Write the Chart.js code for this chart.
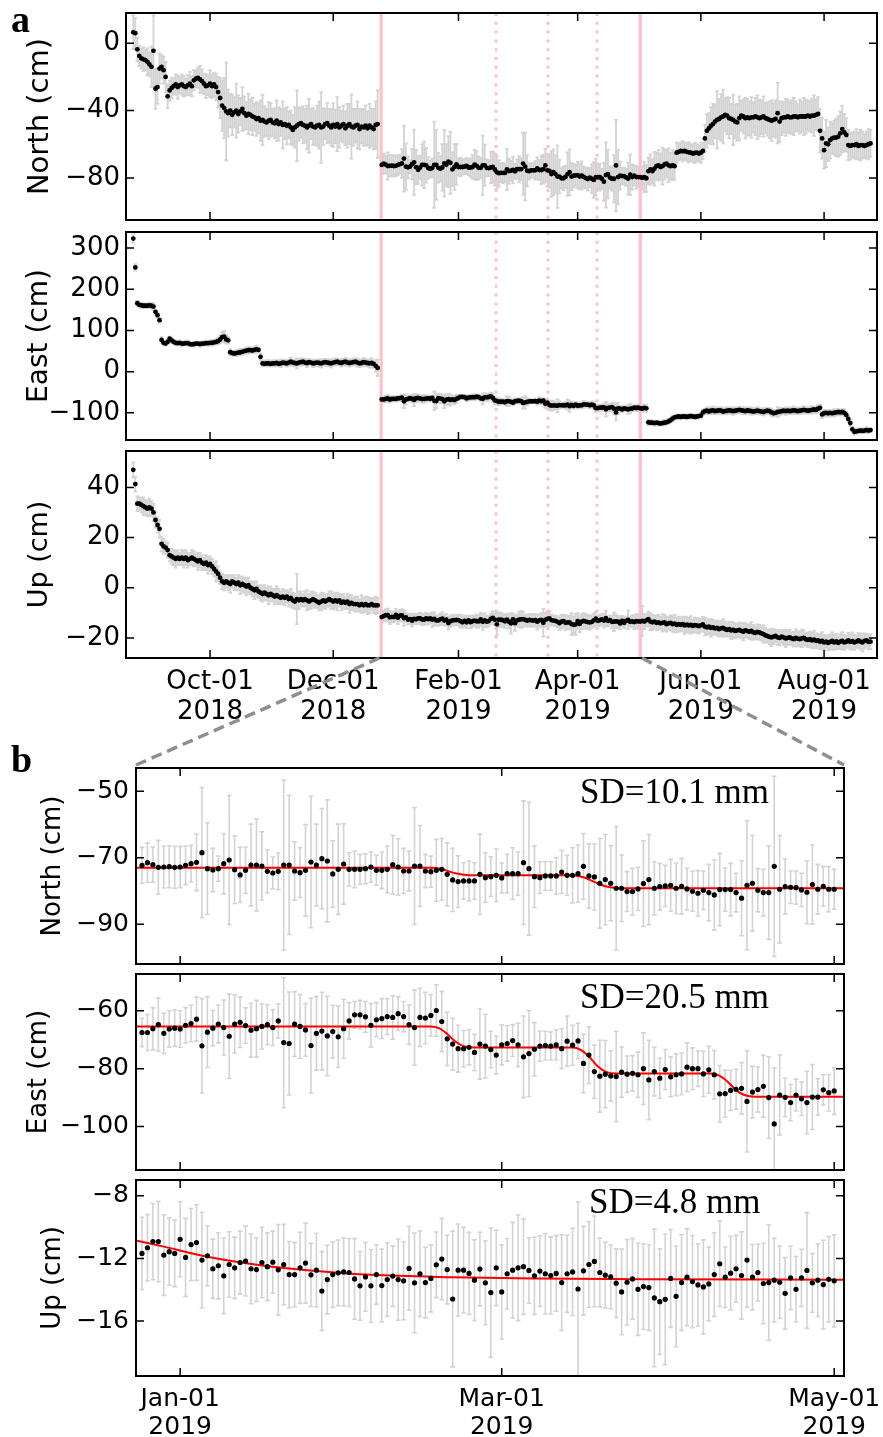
<!DOCTYPE html>
<html>
<head>
<meta charset="utf-8">
<script src="https://cdn.jsdelivr.net/npm/chart.js@4/dist/chart.umd.min.js"></script>
<style>
  body { margin: 0; background: #fff; }
  #wrap { position: relative; width: 883px; height: 1437px; overflow: hidden; background: #fff; }
  #wrap canvas { position: absolute; left: 0; }
  #overlay { top: 0; pointer-events: none; z-index: 5; }
</style>
</head>
<body>
<div id="wrap">
  <canvas id="aNorth"></canvas>
  <canvas id="aEast"></canvas>
  <canvas id="aUp"></canvas>
  <canvas id="bNorth"></canvas>
  <canvas id="bEast"></canvas>
  <canvas id="bUp"></canvas>
  <canvas id="overlay" width="883" height="1437"></canvas>
</div>
<script>
// day numbers are counted from 2018-01-01 (day 0)
const aPreStart = 235;   // 2018-08-24
const bStart = 358;      // 2018-12-25
const aPostStart = 486;  // 2019-05-02

const aTickDays = [273, 334, 396, 455, 516, 577];
const aTickLabels = [['Oct-01', '2018'], ['Dec-01', '2018'], ['Feb-01', '2019'], ['Apr-01', '2019'], ['Jun-01', '2019'], ['Aug-01', '2019']];
const bTickDays = [365, 424, 485];
const bTickLabels = [['Jan-01', '2019'], ['Mar-01', '2019'], ['May-01', '2019']];

const aNorthTicks = [0, -40, -80];
const aEastTicks = [300, 200, 100, 0, -100];
const aUpTicks = [40, 20, 0, -20];
const bNorthTicks = [-50, -70, -90];
const bEastTicks = [-60, -80, -100];
const bUpTicks = [-8, -12, -16];

// event dates (pink lines)
const quakeDays = [357.7, 486];
const sseDays = [414.6, 440.3, 464.6];

// ---- panel b: daily positions (cm) and 1-sigma errors ----
const bNorth = [
  -72.3,-71.5,-72.1,-72.9,-72.8,-72.7,-72.9,-72.8,-72.3,-71.8,
  -71.4,-68.5,-73.3,-73.7,-73.3,-71.8,-70.7,-73.6,-75.2,-73.8,
  -72.2,-72.2,-72.5,-74.1,-74.6,-74.1,-72.2,-72.2,-74.0,-74.5,
  -73.8,-71.3,-72.2,-70.3,-71.0,-74.9,-73.5,-71.9,-73.5,-73.5,
  -73.5,-73.3,-72.8,-73.8,-73.8,-73.5,-72.1,-72.8,-74.0,-74.0,
  -72.5,-72.5,-74.0,-74.2,-73.8,-73.5,
  -75.0,-76.7,-77.2,-77.0,-77.0,-77.0,-75.0,-76.0,-75.7,-75.3,
  -76.1,-74.8,-74.8,-74.8,-71.5,-73.3,-75.7,-76.0,-75.5,-75.5,
  -75.5,-74.3,-75.3,-75.3,-74.8,-72.6,-75.5,-75.8,-77.7,-76.6,
  -77.7,-79.2,-79.2,-80.2,-80.2,-79.4,-77.8,-76.6,-79.2,-78.7,
  -78.5,-78.3,-79.2,-78.6,-79.4,-80.1,-80.7,-79.8,-80.5,-81.2,
  -79.6,-79.6,-79.6,-80.5,-82.2,-78.3,-77.7,-79.8,-80.5,-80.5,
  -72.6,-79.5,-78.7,-78.9,-79.0,-79.7,-80.4,-78.1,-79.5,-78.6,
  -79.5,-79.5
];
const bNorthErr = [
  5.4,5.9,5.3,8.1,6.3,6.3,6.3,6.2,5.8,5.5,
  8.5,19.6,13.8,6.5,3.8,9.1,19.4,10.2,8.3,7.0,
  12.3,13.8,10.3,6.5,4.8,5.5,25.6,20.9,8.8,7.5,
  13.8,19.8,12.3,15.1,18.4,10.0,13.6,12.1,5.0,5.5,
  4.5,4.5,4.6,4.5,5.5,7.0,8.8,8.5,6.8,6.0,
  17.6,12.2,5.0,4.7,9.3,9.3,
  9.5,9.5,7.8,5.5,6.0,5.5,12.1,7.5,6.0,7.9,
  4.5,5.8,7.8,6.5,18.6,20.0,9.3,4.8,4.3,4.3,
  5.5,6.5,6.0,8.3,8.6,9.9,9.7,10.0,13.5,13.6,
  11.3,18.6,10.0,6.0,7.0,6.5,12.9,13.6,8.0,7.0,
  6.2,7.8,7.6,8.4,6.3,6.0,6.8,5.8,8.5,10.6,
  10.9,6.5,7.9,5.8,11.3,19.4,14.4,6.5,7.0,14.1,
  27.1,16.2,8.3,4.9,5.0,5.0,9.5,11.9,7.5,6.0,
  6.8,6.0
];
const bEast = [
  -67.5,-67.5,-66.2,-64.8,-67.8,-66.3,-66.0,-66.3,-65.0,-64.4,
  -62.9,-72.1,-67.4,-66.0,-64.6,-65.8,-68.8,-64.6,-64.0,-65.1,
  -66.7,-66.2,-65.4,-64.8,-65.8,-63.5,-71.0,-71.3,-64.6,-65.4,
  -66.6,-72.0,-67.8,-67.0,-68.7,-67.2,-69.0,-66.2,-63.5,-61.4,
  -61.4,-62.1,-65.0,-63.1,-62.7,-62.0,-62.3,-61.0,-62.0,-64.8,
  -65.8,-62.3,-62.5,-61.6,-59.9,-63.7,
  -69.7,-71.5,-73.1,-73.1,-72.6,-74.4,-71.5,-72.2,-73.4,-75.3,
  -71.8,-71.3,-70.3,-71.8,-75.9,-74.8,-73.3,-72.2,-72.0,-72.2,
  -71.8,-73.1,-70.5,-71.9,-70.4,-78.2,-75.3,-81.0,-82.6,-81.9,
  -82.5,-82.7,-81.2,-81.9,-81.6,-82.1,-80.0,-83.9,-81.0,-83.3,
  -80.3,-82.8,-82.1,-81.8,-79.5,-80.0,-80.0,-81.8,-80.4,-82.1,
  -88.7,-88.6,-87.5,-87.1,-86.8,-91.3,-88.1,-87.2,-86.1,-90.0,
  -99.1,-89.1,-89.9,-91.7,-89.1,-90.4,-91.7,-89.8,-89.8,-87.3,
  -88.3,-87.7
];
const bEastErr = [
  4.9,6.2,7.3,9.2,6.9,6.3,6.3,6.3,6.1,6.3,
  7.6,16.3,12.2,6.1,6.5,9.5,14.6,10.0,8.7,6.1,
  9.3,9.8,7.8,6.9,6.2,5.9,22.5,17.8,11.2,11.0,
  9.1,16.4,12.7,13.4,13.7,9.1,10.6,10.2,6.3,4.6,
  5.0,5.3,7.5,5.9,6.9,6.2,7.5,5.8,5.2,6.8,
  13.0,10.1,8.9,7.2,8.9,10.4,
  9.2,8.9,8.1,6.3,6.1,6.3,12.1,11.0,6.3,6.6,
  6.9,6.1,5.5,7.5,14.1,14.8,9.2,5.2,4.9,4.9,
  5.2,6.9,8.7,6.9,6.1,10.1,9.8,9.2,12.4,11.6,
  8.7,15.6,8.7,6.3,6.1,7.8,12.4,13.7,8.4,6.9,
  6.9,6.9,7.2,7.2,8.4,7.2,6.1,7.8,8.1,8.4,
  9.8,8.1,6.9,6.9,8.9,17.5,8.9,7.8,10.7,14.1,
  19.4,13.8,6.6,6.3,5.5,5.8,10.8,11.2,6.3,5.2,
  6.3,8.1
];
const bUp = [
  -11.68,-11.32,-10.93,-10.93,-11.79,-11.57,-11.68,-10.78,-11.94,-11.12,
  -10.99,-12.11,-11.83,-12.66,-12.47,-13.11,-12.39,-12.60,-12.26,-12.17,
  -12.66,-12.71,-12.26,-12.53,-12.24,-12.73,-12.39,-13.03,-13.03,-12.60,
  -12.30,-13.05,-12.75,-14.08,-13.35,-13.03,-12.92,-12.86,-12.90,-13.31,
  -13.75,-13.18,-13.75,-13.03,-13.73,-13.35,-13.13,-13.35,-13.43,-12.64,
  -13.56,-12.98,-13.54,-13.28,-12.41,-12.04,
  -12.71,-14.59,-12.75,-12.75,-12.96,-13.39,-12.68,-13.56,-14.18,-12.60,
  -14.14,-12.98,-12.75,-12.60,-12.53,-12.77,-13.11,-12.81,-12.98,-13.09,
  -12.96,-13.54,-12.98,-12.86,-13.95,-12.79,-12.39,-12.19,-12.90,-13.07,
  -13.18,-13.58,-14.14,-13.52,-13.31,-13.97,-13.80,-13.86,-14.52,-14.76,
  -14.61,-13.28,-14.42,-13.54,-13.20,-13.48,-13.69,-13.82,-13.63,-13.03,
  -12.34,-13.20,-12.94,-12.66,-13.09,-12.11,-13.20,-12.90,-13.60,-13.54,
  -13.39,-13.52,-14.23,-13.24,-13.97,-13.24,-12.77,-13.56,-13.39,-13.67,
  -13.33,-13.43
];
const bUpErr = [
  2.30,2.11,2.43,2.56,2.57,2.14,2.12,2.39,2.49,2.30,
  2.41,3.05,1.91,1.89,2.11,2.41,2.09,1.96,2.00,2.23,
  2.23,2.03,2.25,2.16,1.98,2.89,2.57,2.11,2.05,2.27,
  2.55,2.01,2.35,2.51,2.19,2.09,2.09,2.17,2.17,2.57,
  2.19,2.19,2.32,1.90,2.32,2.35,1.93,2.59,2.48,2.67,
  3.18,2.73,2.25,2.14,2.09,2.59,
  2.19,4.33,2.94,2.73,2.62,2.57,2.35,2.67,4.12,2.41,
  3.00,2.25,3.05,3.37,3.05,2.09,2.46,2.25,2.57,2.46,
  2.41,3.05,2.46,2.78,5.56,2.83,2.73,2.89,2.19,2.09,
  2.03,2.19,2.73,2.73,2.57,2.94,2.73,2.73,4.39,3.37,
  4.17,3.12,3.21,3.05,3.10,2.94,2.62,3.00,2.35,2.67,
  2.73,1.93,2.35,2.14,2.78,3.00,2.09,1.82,2.57,3.69,
  2.67,2.30,2.28,2.03,2.09,1.82,3.69,1.87,2.32,2.83,
  2.73,2.94
];

// model fits in panel b (knots)
const bFitNorthX = [356.9, 411, 413, 415, 417, 419, 437, 439, 441, 443, 445, 448, 486.8];
const bFitNorthY = [-73.0, -73.0, -73.4, -74.5, -75.1, -75.3, -75.3, -75.9, -77.3, -78.6, -79.1, -79.2, -79.2];
const bFitEastX = [356.9, 411, 412.5, 414, 415.5, 417, 419, 437, 438.5, 440, 441.5, 443, 445, 462.5, 464, 465.5, 467, 468.5, 470.5, 486.8];
const bFitEastY = [-65.4, -65.4, -66.0, -68.0, -70.6, -72.2, -72.7, -72.7, -73.5, -75.8, -79.0, -81.0, -81.7, -81.7, -82.5, -84.6, -87.4, -89.1, -89.7, -89.7];
const bFitUpX = [356.9, 362, 370, 380, 390, 400, 415, 430, 450, 486.8];
const bFitUpY = [-10.85, -11.25, -11.9, -12.45, -12.8, -13.05, -13.2, -13.28, -13.33, -13.36];

// ---- panel a: before the first event and after the last one ----
const aNorthPre = [
  6.5, 6.0, -3.6, -7.5, -9.0, -9.5, -10.0, -11.0, -12.5, -14.0,
  -4.5, -27.0, -26.0, -15.0, -14.0, -16.0, -20.0, -31.5, -28.0, -26.5,
  -25.5, -24.5, -26.0, -25.0, -24.5, -25.5, -26.0, -25.0, -24.0, -25.5,
  -22.0, -21.0, -20.5, -21.5, -22.5, -24.0, -25.5, -25.0, -24.0, -25.5,
  -24.5, -26.0, -29.0, -32.5, -37.0, -38.5, -40.5, -41.5, -40.0, -42.5,
  -41.0, -40.0, -42.0, -40.5, -39.0, -41.5, -43.0, -42.0, -42.5, -43.5,
  -44.0, -45.0, -44.5, -46.0, -45.5, -46.5, -47.0, -46.0, -45.5, -47.0,
  -47.5, -46.0, -48.0, -47.0, -48.5, -48.0, -49.0, -48.5, -50.0, -51.5,
  -50.0, -49.0, -48.0, -47.5, -48.5, -49.0, -50.0, -49.0, -48.0, -49.5,
  -50.0, -49.0, -48.5, -50.0, -49.5, -48.0, -47.5, -49.0, -50.0, -48.5,
  -49.5, -48.0, -50.0, -49.0, -48.0, -50.5, -49.0, -48.0, -49.5, -50.0,
  -49.0, -48.5, -51.0, -49.5, -50.0, -49.0, -50.5, -49.0, -50.0, -51.0,
  -48.5, -48.0
];
const aNorthPreErr = [
  10, 9, 7, 6, 6, 7, 6, 8, 7, 12,
  21, 12, 10, 9, 7, 8, 9, 7, 6, 6,
  5, 6, 7, 5, 6, 6, 5, 6, 7, 6,
  6, 5, 6, 8, 7, 6, 7, 6, 8, 7,
  7, 8, 9, 12, 15, 18, 29, 14, 10, 12,
  9, 16, 11, 8, 13, 10, 8, 12, 9, 11,
  8, 10, 9, 12, 15, 9, 8, 11, 10, 8,
  9, 12, 10, 8, 14, 9, 11, 8, 10, 9,
  12, 21, 10, 9, 11, 10, 13, 16, 9, 11,
  10, 12, 14, 21, 11, 9, 12, 10, 11, 13,
  10, 16, 12, 9, 11, 10, 13, 12, 19, 11,
  10, 14, 12, 10, 11, 12, 10, 13, 11, 12,
  14, 20
];
const aNorthPost = [
  -79.5, -80.0, -79.5, -80.2,
  -76.0, -75.0, -76.0, -74.5, -73.0, -72.5, -73.5, -73.0, -72.0, -71.5,
  -72.5, -73.0, -72.5, -73.0, -65.0, -64.5, -64.0, -64.2, -64.0, -64.5,
  -64.8, -65.0, -65.5, -65.2, -65.0, -65.5, -65.0, -64.0, -56.5, -52.0,
  -50.5, -49.0, -48.0, -46.5, -45.5, -45.0, -44.0, -43.5, -42.5, -43.0,
  -44.5, -45.0, -45.5, -46.5, -47.0, -44.5, -43.0, -43.5, -44.5, -44.0,
  -44.5, -44.0, -44.0, -43.5, -44.0, -44.5, -44.0, -43.5, -44.5, -45.0,
  -45.5, -46.0, -45.5, -45.0, -41.5, -46.5, -44.5, -44.0, -44.0, -43.5,
  -44.0, -44.0, -43.5, -43.5, -44.0, -43.5, -43.5, -43.5, -43.5, -43.0,
  -43.5, -43.0, -43.0, -42.5, -42.0, -52.0, -56.5, -63.5, -59.5, -60.0,
  -57.5, -56.5, -56.0, -56.0, -55.5, -53.5, -51.0, -53.0, -54.5, -60.5,
  -61.0, -60.5, -60.5, -60.0, -61.0, -60.5, -60.5, -61.0, -60.5, -60.0,
  -59.5
];
const aNorthPostErr = [
  8, 7, 9, 8,
  8, 9, 7, 10, 8, 9, 8, 11, 9, 8,
  10, 8, 9, 8, 6, 5, 5, 6, 5, 5,
  6, 5, 5, 6, 5, 5, 6, 5, 8, 10,
  9, 11, 12, 10, 17, 12, 14, 16, 10, 11,
  12, 9, 15, 10, 11, 13, 9, 10, 12, 11,
  10, 12, 9, 11, 13, 11, 10, 12, 9, 10,
  11, 12, 10, 11, 18, 12, 10, 9, 11, 10,
  9, 10, 11, 9, 8, 10, 9, 11, 10, 9,
  9, 10, 12, 9, 10, 13, 12, 11, 14, 10,
  11, 9, 10, 11, 12, 13, 14, 11, 10, 9,
  8, 7, 8, 9, 8, 9, 8, 7, 8, 9,
  8
];
const aEastPre = [
  323, 253, 166, 162, 161, 160, 160, 160, 161, 160,
  158, 145, 137, 125, 77, 70, 68, 72, 80, 76,
  72, 70, 69, 70, 68, 68, 69, 69, 67, 66,
  67, 68, 68, 67, 68, 68, 69, 69, 70, 70,
  71, 72, 74, 78, 84, 85, 78, 76, 47, 45,
  44, 45, 46, 47, 48, 50, 51, 52, 52, 51,
  53, 54, 53, 36, 20, 19, 20, 20, 19, 20,
  20, 21, 19, 20, 22, 21, 20, 22, 24, 22,
  21, 20, 22, 23, 24, 22, 21, 23, 22, 20,
  21, 22, 21, 20, 22, 23, 22, 21, 20, 22,
  23, 24, 22, 21, 23, 24, 22, 21, 22, 23,
  24, 22, 20, 21, 23, 22, 21, 20, 21, 19,
  14, 9
];
const aEastPreErr = [
  10, 8, 6, 5, 6, 5, 6, 5, 6, 7,
  8, 6, 7, 6, 7, 6, 5, 6, 5, 6,
  5, 6, 5, 5, 6, 5, 5, 6, 5, 5,
  6, 5, 5, 6, 5, 5, 6, 6, 5, 7,
  6, 7, 8, 10, 12, 14, 10, 8, 7, 6,
  6, 7, 6, 8, 7, 6, 7, 8, 7, 6,
  7, 9, 6, 8, 7, 6, 7, 8, 6, 7,
  8, 7, 6, 9, 7, 6, 8, 7, 10, 7,
  8, 12, 7, 9, 8, 7, 10, 8, 7, 9,
  8, 7, 9, 10, 8, 7, 9, 8, 10, 7,
  9, 8, 7, 9, 8, 10, 8, 9, 7, 9,
  8, 10, 9, 8, 10, 9, 8, 10, 12, 9,
  14, 20
];
const aEastPost = [
  -89, -90, -88, -89,
  -123, -124, -124, -125, -124, -125, -126, -125, -124, -123,
  -121, -118, -114, -111, -110, -109, -110, -109, -109, -110,
  -109, -108, -109, -110, -109, -108, -107, -99, -96, -95,
  -97, -95, -94, -96, -95, -94, -95, -97, -96, -95,
  -94, -95, -96, -95, -94, -93, -94, -95, -96, -94,
  -95, -96, -97, -96, -95, -96, -97, -98, -96, -95,
  -96, -99, -101, -100, -98, -97, -96, -95, -96, -95,
  -96, -95, -94, -95, -96, -95, -94, -93, -94, -95,
  -94, -93, -92, -93, -90, -88, -104, -101, -100, -101,
  -100, -101, -100, -99, -98, -99, -98, -100, -105, -115,
  -125, -140, -146, -145, -144, -143, -144, -143, -142, -143,
  -142
];
const aEastPostErr = [
  8, 7, 8, 9,
  7, 6, 5, 6, 5, 6, 5, 6, 7, 5,
  6, 5, 6, 5, 6, 5, 6, 5, 5, 6,
  5, 6, 5, 5, 6, 5, 6, 7, 6, 8,
  7, 8, 9, 7, 8, 8, 9, 7, 8, 9,
  7, 8, 9, 8, 7, 8, 7, 9, 8, 7,
  8, 9, 7, 8, 9, 7, 8, 9, 8, 7,
  8, 9, 8, 7, 12, 9, 8, 7, 9, 8,
  7, 8, 9, 8, 7, 8, 7, 9, 8, 7,
  8, 9, 7, 8, 9, 8, 9, 8, 7, 8,
  7, 8, 9, 8, 7, 8, 7, 8, 7, 8,
  7, 6, 7, 6, 5, 6, 5, 6, 7, 6,
  5
];
const aUpPre = [
  47, 41.3, 33.5, 33.5, 33, 32.5, 32, 31.5, 32, 31.5,
  30, 27, 25, 23.5, 17.5, 16.5, 16, 15, 13, 12.5,
  12, 11.5, 12, 11.5, 12, 11.5, 12, 11, 11.5, 12,
  11.5, 11, 10.5, 11, 10, 9.5, 10, 9, 9.5, 8.5,
  7.5, 6.5, 5.5, 4, 2.5, 2, 2.5, 2, 1.5, 2.5,
  2, 1.5, 2, 1, 1.5, 1, 0.5, 1, 0, -0.5,
  -1, -0.5, -1.5, -2, -2.5, -2, -2.5, -3, -2.5, -3,
  -3.5, -3, -3.5, -4, -3.5, -4, -3.5, -4.5, -4, -5,
  -5.5, -4.5, -5, -4.5, -5, -4.5, -5, -5.5, -5, -4.5,
  -5, -5.5, -6, -5.5, -5, -5.5, -5, -4.5, -5, -5.5,
  -5, -5.5, -5, -6, -5.5, -6, -5.5, -6.5, -6, -6.5,
  -6.5, -6.5, -7, -6.5, -7, -6.5, -7, -7, -6.5, -7,
  -7, -7
];
const aUpPreErr = [
  3, 3, 3, 2.5, 3, 3.5, 3, 3, 3.5, 3,
  3.5, 3, 3, 3.5, 3, 3, 2.5, 3, 2.5, 3,
  3, 3.5, 3, 2.5, 3, 3.5, 3, 3, 2.5, 3,
  3, 2.5, 3.5, 3, 3, 2.5, 3, 3.5, 3, 3,
  3, 4, 3, 2.5, 3, 3, 2.5, 3, 3.5, 2.5,
  3, 2.5, 3, 3.5, 3, 3, 3.5, 3, 2.5, 3,
  3.5, 3, 2.5, 3, 3, 3, 2.5, 3.5, 3, 2.5,
  3, 3.5, 3, 2.5, 3, 3, 2.5, 3, 3.5, 3,
  3, 10, 3.5, 3, 2.5, 3, 4, 3, 3.5, 3,
  3, 2.5, 3, 3.5, 3, 3, 2.5, 3, 3.5, 3,
  3, 3.5, 2.5, 3, 3, 2.5, 3, 3.5, 3, 2.5,
  3, 3, 2.5, 3.5, 3, 3, 3.5, 3, 2.5, 3,
  3.5, 3
];
const aUpPost = [
  -13.5, -13.2, -13.5, -13.0,
  -12.5, -13.5, -13.8, -13.5, -14.0, -13.8, -14.2, -14.0, -13.8, -14.5,
  -14.2, -14.0, -14.5, -14.3, -14.8, -14.5, -14.8, -14.5, -15.0, -14.7,
  -15.0, -14.8, -15.2, -14.9, -15.0, -15.3, -15.0, -14.6, -15.5, -15.8,
  -15.5, -16.0, -15.8, -16.2, -16.0, -16.5, -16.2, -16.0, -16.5, -16.8,
  -16.5, -17.0, -16.8, -17.2, -17.0, -16.8, -17.2, -17.5, -17.0, -17.3,
  -17.5, -17.2, -17.8, -18.0, -17.6, -17.8, -18.2, -18.5, -19.0, -19.3,
  -19.6, -19.8, -19.5, -19.2, -19.8, -20.0, -19.5, -19.8, -20.2, -20.0,
  -19.8, -20.2, -20.5, -20.0, -20.3, -20.5, -20.2, -20.0, -20.6, -20.8,
  -20.5, -21.0, -20.7, -21.2, -21.0, -21.5, -21.2, -21.8, -21.5, -22.0,
  -21.6, -21.2, -21.8, -21.4, -22.0, -21.5, -21.2, -21.8, -21.5, -21.0,
  -21.6, -21.3, -21.8, -21.5, -21.0, -21.5, -21.8, -21.2, -21.0, -21.6,
  -21.5
];
const aUpPostErr = [
  3, 6, 3, 2.5,
  3, 3.5, 3, 2.5, 3, 3, 2.5, 3.5, 3, 3,
  2.5, 3, 3, 3.5, 3, 3, 2.5, 3, 3.5, 3,
  3, 3.5, 2.5, 3, 3, 3, 2.5, 3, 3.5, 3,
  3, 3.5, 3, 2.5, 3, 3, 3, 3.5, 3, 2.5,
  3, 3.5, 3, 3, 2.5, 3, 3, 3.5, 3, 2.5,
  3, 3.5, 3, 2.5, 3, 3, 3, 3.5, 3, 2.5,
  3, 3.5, 3, 2.5, 3, 3, 2.5, 3, 3.5, 3,
  3, 2.5, 3, 3.5, 3, 3, 3.5, 3, 2.5, 3,
  3, 3, 3.5, 3, 2.5, 3, 3.5, 3, 2.5, 3,
  3, 3.5, 3, 3, 2.5, 3, 3.5, 3, 2.5, 3,
  3, 3.5, 3, 2.5, 3, 3, 3.5, 3, 2.5, 3,
  3
];

Chart.defaults.font.family = '"DejaVu Sans", sans-serif';
Chart.defaults.color = '#000';

function pts(start, vals) {
  return vals.map((v, i) => ({ x: start + i, y: v }));
}
function zip(xs, ys) {
  return xs.map((x, i) => ({ x: x, y: ys[i] }));
}
function minusLabel(v) {
  return v < 0 ? '\u2212' + Math.abs(v) : String(v);
}

// error bars, event lines, box frame with inward ticks, SD note
const frameTicks = {
  id: 'frameTicks',
  beforeDatasetsDraw(chart, args, o) {
    const { ctx, chartArea: a } = chart;
    const x = chart.scales.x, y = chart.scales.y;
    ctx.save();
    ctx.beginPath();
    ctx.rect(a.left, a.top, a.right - a.left, a.bottom - a.top);
    ctx.clip();
    chart.data.datasets.forEach(ds => {
      if (!ds.errors) return;
      ctx.strokeStyle = '#d3d3d3';
      ctx.lineWidth = o.barWidth;
      ctx.beginPath();
      ds.data.forEach((p, i) => {
        const px = x.getPixelForValue(p.x);
        const t = y.getPixelForValue(p.y + ds.errors[i]);
        const b = y.getPixelForValue(p.y - ds.errors[i]);
        ctx.moveTo(px, t); ctx.lineTo(px, b);
        ctx.moveTo(px - o.cap, t); ctx.lineTo(px + o.cap, t);
        ctx.moveTo(px - o.cap, b); ctx.lineTo(px + o.cap, b);
      });
      ctx.stroke();
    });
    if (o.events) {
      ctx.strokeStyle = '#ffc0cb';
      ctx.lineWidth = 3.2;
      quakeDays.forEach(d => {
        const px = x.getPixelForValue(d);
        ctx.beginPath(); ctx.moveTo(px, a.top); ctx.lineTo(px, a.bottom); ctx.stroke();
      });
      ctx.lineWidth = 3;
      ctx.setLineDash([3, 5.8]);
      sseDays.forEach(d => {
        const px = x.getPixelForValue(d);
        ctx.beginPath(); ctx.moveTo(px, a.top); ctx.lineTo(px, a.bottom); ctx.stroke();
      });
    }
    ctx.restore();
  },
  afterDraw(chart, args, o) {
    const { ctx, chartArea: a } = chart;
    const x = chart.scales.x, y = chart.scales.y;
    ctx.save();
    ctx.strokeStyle = '#000';
    ctx.lineWidth = 1.5;
    ctx.beginPath();
    o.xTicks.forEach(v => {
      const px = x.getPixelForValue(v);
      ctx.moveTo(px, a.top); ctx.lineTo(px, a.top + 8);
      ctx.moveTo(px, a.bottom); ctx.lineTo(px, a.bottom - 8);
    });
    o.yTicks.forEach(v => {
      const py = y.getPixelForValue(v);
      ctx.moveTo(a.left, py); ctx.lineTo(a.left + 8, py);
      ctx.moveTo(a.right, py); ctx.lineTo(a.right - 8, py);
    });
    ctx.stroke();
    ctx.lineWidth = 2;
    ctx.strokeRect(a.left, a.top, a.right - a.left, a.bottom - a.top);
    if (o.sd) {
      ctx.fillStyle = '#000';
      ctx.font = '35px "Liberation Serif", serif';
      ctx.textBaseline = 'alphabetic';
      ctx.fillText(o.sd, a.left + o.sdX, a.top + o.sdY);
    }
    ctx.restore();
  }
};

function makePanel(p) {
  const pad = 30;
  const h = p.bottom - p.top;
  const canvas = document.getElementById(p.id);
  canvas.width = 883;
  canvas.height = h + pad + (p.xLabels ? p.xh : pad);
  canvas.style.top = (p.top - pad) + 'px';

  const datasets = [{
    data: p.points,
    errors: p.errors,
    backgroundColor: '#000',
    borderWidth: 0,
    pointRadius: p.radius,
    order: 1
  }];
  if (p.fit) {
    datasets.push({
      data: p.fit,
      showLine: true,
      borderColor: '#ff0000',
      borderWidth: 2,
      pointRadius: 0,
      cubicInterpolationMode: 'monotone',
      order: 2
    });
  }

  return new Chart(canvas, {
    type: 'scatter',
    data: { datasets },
    options: {
      responsive: false,
      animation: false,
      events: [],
      layout: { padding: { top: pad, left: 0, right: 883 - p.right, bottom: p.xLabels ? 0 : pad } },
      plugins: {
        legend: { display: false },
        tooltip: { enabled: false },
        frameTicks: {
          xTicks: p.tickDays, yTicks: p.yTicks,
          barWidth: p.barWidth, cap: p.cap, events: !!p.events,
          sd: p.sd || '', sdX: p.sdX || 0, sdY: p.sdY || 0
        }
      },
      scales: {
        x: {
          type: 'linear', min: p.xMin, max: p.xMax,
          grid: { display: false, drawTicks: false }, border: { display: false },
          afterBuildTicks: s => { s.ticks = p.tickDays.map(v => ({ value: v })); },
          afterFit: s => { s.height = p.xLabels ? p.xh : 0; s.paddingLeft = 0; s.paddingRight = 0; },
          ticks: {
            display: !!p.xLabels, autoSkip: false, maxRotation: 0, minRotation: 0,
            padding: p.xPad, color: '#000',
            font: { size: p.tickSize, lineHeight: p.xLine },
            callback: v => p.tickLabels[p.tickDays.indexOf(v)]
          }
        },
        y: {
          type: 'linear', min: p.yMin, max: p.yMax,
          grid: { display: false, drawTicks: false }, border: { display: false },
          afterBuildTicks: s => { s.ticks = p.yTicks.map(v => ({ value: v })); },
          afterFit: s => { s.width = p.left; },
          ticks: { autoSkip: false, padding: p.yPad, color: '#000', font: { size: p.tickSize }, callback: v => minusLabel(v) },
          title: {
            display: true, text: p.title, color: '#000',
            font: { size: p.titleSize, lineHeight: 1 },
            padding: { top: p.titleX - p.titleSize / 2, bottom: 0 }
          }
        }
      }
    },
    plugins: [frameTicks]
  });
}

const aCommon = { left: 126, right: 877, xMin: 231.4, xMax: 603.2, tickDays: aTickDays, tickLabels: aTickLabels,
  tickSize: 26, xPad: 10, yPad: 6, xLine: 1.13, xh: 75, radius: 2.4, barWidth: 1.8, cap: 1.8, events: true };
const bCommon = { left: 136, right: 844, xMin: 356.9, xMax: 486.8, tickDays: bTickDays, tickLabels: bTickLabels,
  tickSize: 25, xPad: 9, yPad: 7, xLine: 1.14, xh: 60, radius: 2.6, barWidth: 1.6, cap: 2.3, events: false };

const chANorth = makePanel(Object.assign({}, aCommon, {
  id: 'aNorth', top: 13, bottom: 220, yMin: -105, yMax: 18, yTicks: aNorthTicks,
  title: 'North (cm)', titleSize: 29, titleX: 40,
  points: [...pts(aPreStart, aNorthPre), ...pts(bStart, bNorth), ...pts(aPostStart, aNorthPost)],
  errors: [...aNorthPreErr, ...bNorthErr, ...aNorthPostErr]
}));
const chAEast = makePanel(Object.assign({}, aCommon, {
  id: 'aEast', top: 232, bottom: 440, yMin: -166, yMax: 339, yTicks: aEastTicks,
  title: 'East (cm)', titleSize: 28, titleX: 40,
  points: [...pts(aPreStart, aEastPre), ...pts(bStart, bEast), ...pts(aPostStart, aEastPost)],
  errors: [...aEastPreErr, ...bEastErr, ...aEastPostErr]
}));
const chAUp = makePanel(Object.assign({}, aCommon, {
  id: 'aUp', top: 451, bottom: 658, yMin: -28, yMax: 54.5, yTicks: aUpTicks,
  title: 'Up (cm)', titleSize: 27, titleX: 40, xLabels: true,
  points: [...pts(aPreStart, aUpPre), ...pts(bStart, bUp), ...pts(aPostStart, aUpPost)],
  errors: [...aUpPreErr, ...bUpErr, ...aUpPostErr]
}));
const chBNorth = makePanel(Object.assign({}, bCommon, {
  id: 'bNorth', top: 768, bottom: 964, yMin: -102, yMax: -43, yTicks: bNorthTicks,
  title: 'North (cm)', titleSize: 26, titleX: 53,
  points: pts(bStart, bNorth), errors: bNorthErr, fit: zip(bFitNorthX, bFitNorthY),
  sd: 'SD=10.1 mm', sdX: 444, sdY: 35
}));
const chBEast = makePanel(Object.assign({}, bCommon, {
  id: 'bEast', top: 974, bottom: 1170, yMin: -115, yMax: -47.3, yTicks: bEastTicks,
  title: 'East (cm)', titleSize: 26, titleX: 39,
  points: pts(bStart, bEast), errors: bEastErr, fit: zip(bFitEastX, bFitEastY),
  sd: 'SD=20.5 mm', sdX: 444, sdY: 34
}));
const chBUp = makePanel(Object.assign({}, bCommon, {
  id: 'bUp', top: 1180, bottom: 1376, yMin: -19.5, yMax: -7.0, yTicks: bUpTicks,
  title: 'Up (cm)', titleSize: 26, titleX: 53, xLabels: true,
  points: pts(bStart, bUp), errors: bUpErr, fit: zip(bFitUpX, bFitUpY),
  sd: 'SD=4.8 mm', sdX: 453, sdY: 33
}));

// zoom connectors and panel letters
const ov = document.getElementById('overlay').getContext('2d');
const upTop = chAUp.canvas.offsetTop;
const nbTop = chBNorth.canvas.offsetTop;
const yFrom = upTop + chAUp.chartArea.bottom;
const yTo = nbTop + chBNorth.chartArea.top;
ov.save();
ov.strokeStyle = '#8f8f8f';
ov.lineWidth = 3.5;
ov.setLineDash([11, 6]);
ov.beginPath();
ov.moveTo(chAUp.scales.x.getPixelForValue(chBNorth.scales.x.min), yFrom);
ov.lineTo(chBNorth.chartArea.left, yTo - 3);
ov.moveTo(chAUp.scales.x.getPixelForValue(chBNorth.scales.x.max), yFrom);
ov.lineTo(chBNorth.chartArea.right, yTo - 3);
ov.stroke();
ov.restore();
ov.fillStyle = '#000';
ov.font = 'bold 38px "Liberation Serif", serif';
ov.fillText('a', 11, 32);
ov.fillText('b', 11, 772);
</script>
</body>
</html>
